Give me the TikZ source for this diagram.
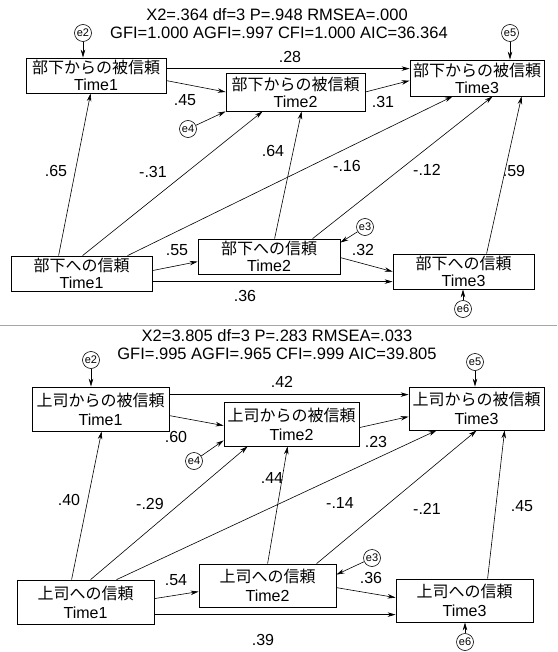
\documentclass[tikz,border=0pt]{standalone}
\usepackage{fontspec}
\setmainfont{Liberation Sans}
\newfontfamily\cjk{Noto Sans CJK JP}
\usetikzlibrary{arrows.meta}
\begin{document}
\begin{tikzpicture}[x=1pt,y=-1pt,
  box/.style={draw, line width=0.8pt, inner sep=0pt, align=center, font=\fontsize{16}{17}\selectfont},
  boxb/.style={box, font=\fontsize{16}{19}\selectfont},
  err/.style={draw, circle, line width=0.6pt, inner sep=0pt, minimum size=17pt, font=\fontsize{11}{11}\selectfont},
  arr/.style={-{Stealth[length=8pt,width=4.5pt]}, line width=0.6pt},
  lbl/.style={font=\fontsize{16}{16}\selectfont, inner sep=0pt},
  fitx/.style={font=\fontsize{16.5}{16.5}\selectfont, inner sep=0pt}]
\useasboundingbox (0,0) rectangle (557,652);
\fill[white] (0,0) rectangle (557,652);

% ---------- top panel ----------
\node[fitx] (t1) at (277,15) {X2=.364 df=3 P=.948 RMSEA=.000};
\node[fitx] (t2) at (279,33) {GFI=1.000 AGFI=.997 CFI=1.000 AIC=36.364};

\node[box, minimum width=140pt, minimum height=35pt] (A1) at (96,75.5) {{\cjk 部下からの被信頼}\\Time1};
\node[box, minimum width=139pt, minimum height=38pt] (A2) at (295.5,92) {{\cjk 部下からの被信頼}\\Time2};
\node[box, minimum width=134pt, minimum height=36pt] (A3) at (477,78) {{\cjk 部下からの被信頼}\\Time3};
\node[box, minimum width=141pt, minimum height=35pt] (B1) at (81.5,273.5) {{\cjk 部下への信頼}\\Time1};
\node[box, minimum width=142pt, minimum height=35pt] (B2) at (269,256.5) {{\cjk 部下への信頼}\\Time2};
\node[box, minimum width=141pt, minimum height=35pt] (B3) at (463.5,271.5) {{\cjk 部下への信頼}\\Time3};

\node[err] (e2) at (83,33) {e2};
\node[err] (e5) at (510,33) {e5};
\node[err] (e4) at (188,129) {e4};
\node[err] (e3) at (365,227) {e3};
\node[err] (e6) at (463,309) {e6};

\draw[arr] (e2) -- (e2 |- A1.north);
\draw[arr] (e5) -- (e5 |- A3.north);
\draw[arr] ([yshift=-11pt]A1.north east) -- ([yshift=-11pt]A1.north east -| A3.west);
\draw[arr] ([yshift=-23pt]A1.north east) -- (A2.west);
\draw[arr] (A2.east) -- ([yshift=-21pt]A3.north west);
\draw[arr] (e4) -- (A2.south west);
\draw[arr] ([xshift=48pt]B1.north west) -- ([xshift=65pt]A1.south west);
\draw[arr] ([xshift=72pt]B1.north west) -- ([xshift=37pt]A2.south west);
\draw[arr] ([xshift=117pt]B1.north west) -- ([xshift=43pt]A3.south west);
\draw[arr] ([xshift=77pt]B2.north west) -- ([xshift=76pt]A2.south west);
\draw[arr] ([xshift=115pt]B2.north west) -- ([xshift=83pt]A3.south west);
\draw[arr] ([xshift=94pt]B3.north west) -- ([xshift=112pt]A3.south west);
\draw[arr] ([yshift=-15pt]B1.north east) -- ([yshift=-23pt]B2.north west);
\draw[arr] ([yshift=-26pt]B1.north east) -- ([yshift=-26pt]B1.north east -| B3.west);
\draw[arr] ([yshift=-19pt]B2.north east) -- ([yshift=-18pt]B3.north west);
\draw[arr] (e3) -- ([yshift=-4pt]B2.north east);
\draw[arr] (e6) -- (e6 |- B3.south);

\node[lbl] (l28) at (290,57) {.28};
\node[lbl] (l45) at (185,100) {.45};
\node[lbl] (l31) at (383,102) {.31};
\node[lbl] (l64) at (273,151) {.64};
\node[lbl] (l65) at (56,171) {.65};
\node[lbl] (l31b) at (153,172) {-.31};
\node[lbl] (l16) at (347,166) {-.16};
\node[lbl] (l12) at (427,170) {-.12};
\node[lbl] (l59) at (514,171) {.59};
\node[lbl] (l55) at (177,250) {.55};
\node[lbl] (l32) at (363,250) {.32};
\node[lbl] (l36) at (245,296) {.36};

% separator
\draw[black!35, line width=1pt] (0,325) -- (557,325);

% ---------- bottom panel ----------
\node[fitx] (s1) at (277,336) {X2=3.805 df=3 P=.283 RMSEA=.033};
\node[fitx] (s2) at (277,354) {GFI=.995 AGFI=.965 CFI=.999 AIC=39.805};

\node[boxb, minimum width=137pt, minimum height=44pt] (C1) at (100.5,409) {{\cjk 上司からの被信頼}\\Time1};
\node[boxb, minimum width=135pt, minimum height=44pt] (C2) at (291.5,424) {{\cjk 上司からの被信頼}\\Time2};
\node[boxb, minimum width=135pt, minimum height=43pt] (C3) at (476.5,408.5) {{\cjk 上司からの被信頼}\\Time3};
\node[boxb, minimum width=137pt, minimum height=44pt] (D1) at (85.5,602) {{\cjk 上司への信頼}\\Time1};
\node[boxb, minimum width=137pt, minimum height=43pt] (D2) at (267.5,585.5) {{\cjk 上司への信頼}\\Time2};
\node[boxb, minimum width=137pt, minimum height=43pt] (D3) at (464.5,600.5) {{\cjk 上司への信頼}\\Time3};

\node[err] (f2) at (91,360) {e2};
\node[err] (f5) at (475,362) {e5};
\node[err] (f4) at (194,461) {e4};
\node[err] (f3) at (372,558) {e3};
\node[err] (f6) at (465,642) {e6};

\draw[arr] (f2) -- (f2 |- C1.north);
\draw[arr] (f5) -- (f5 |- C3.north);
\draw[arr] ([yshift=-8pt]C1.north east) -- ([yshift=-8pt]C1.north east -| C3.west);
\draw[arr] ([yshift=-29pt]C1.north east) -- ([yshift=-24pt]C2.north west);
\draw[arr] ([yshift=-26pt]C2.north east) -- ([yshift=-30pt]C3.north west);
\draw[arr] (f4) -- ([yshift=6pt]C2.south west);
\draw[arr] ([xshift=55pt]D1.north west) -- ([xshift=70pt]C1.south west);
\draw[arr] ([xshift=74pt]D1.north west) -- ([xshift=24pt]C2.south west);
\draw[arr] ([xshift=100pt]D1.north west) -- ([xshift=28pt]C3.south west);
\draw[arr] ([xshift=69pt]D2.north west) -- ([xshift=64pt]C2.south west);
\draw[arr] ([xshift=118pt]D2.north west) -- ([xshift=68pt]C3.south west);
\draw[arr] ([xshift=92pt]D3.north west) -- ([xshift=96pt]C3.south west);
\draw[arr] ([yshift=-19pt]D1.north east) -- ([yshift=-28pt]D2.north west);
\draw[arr] ([yshift=-35pt]D1.north east) -- ([yshift=-35pt]D1.north east -| D3.west);
\draw[arr] ([yshift=-24pt]D2.north east) -- ([yshift=-19pt]D3.north west);
\draw[arr] (f3) -- ([yshift=-11pt]D2.north east);
\draw[arr] (f6) -- (f6 |- D3.south);

\node[lbl] (m42) at (282,382) {.42};
\node[lbl] (m60) at (176,437) {.60};
\node[lbl] (m23) at (376,442) {.23};
\node[lbl] (m44) at (272,478) {.44};
\node[lbl] (m40) at (69,500) {.40};
\node[lbl] (m29) at (150,504) {-.29};
\node[lbl] (m14) at (340,503) {-.14};
\node[lbl] (m21) at (427,509) {-.21};
\node[lbl] (m45) at (522,506) {.45};
\node[lbl] (m54) at (176,580) {.54};
\node[lbl] (m36) at (371,578) {.36};
\node[lbl] (m39) at (263,640) {.39};
\end{tikzpicture}
\end{document}
